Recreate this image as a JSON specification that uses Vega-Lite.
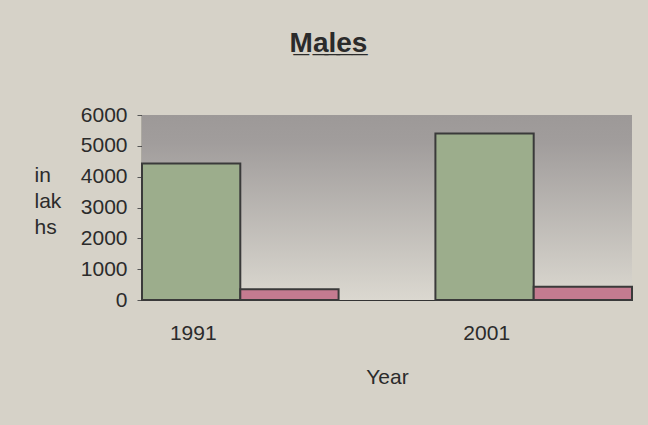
{
  "$schema": "https://vega.github.io/schema/vega-lite/v6.json",
  "width": 490,
  "height": 185,
  "padding": {"left": 34, "top": 30, "right": 16, "bottom": 40},
  "background": "#d6d2c8",
  "config": {
    "view": {"stroke": null},
    "font": "Liberation Sans",
    "axisY": {"labelOverlap": false}
  },
  "title": {
    "text": "M̲a̲l̲e̲s̲",
    "fontSize": 28,
    "fontWeight": "bold",
    "font": "Liberation Sans",
    "color": "#2b2b2b",
    "anchor": "middle",
    "frame": "bounds",
    "dx": -5,
    "offset": 46
  },
  "data": {
    "values": [
      {"year": "1991", "series": "Series 1", "value": 4430},
      {"year": "1991", "series": "Series 2", "value": 350},
      {"year": "2001", "series": "Series 1", "value": 5400},
      {"year": "2001", "series": "Series 2", "value": 430}
    ]
  },
  "encoding": {
    "y": {
      "field": "value",
      "type": "quantitative",
      "scale": {"domain": [0, 6000]},
      "axis": {
        "values": [0, 1000, 2000, 3000, 4000, 5000, 6000],
        "tickCount": 7,
        "format": "d",
        "labelOverlap": false,
        "grid": false,
        "title": ["in", "lak", "hs"],
        "titleAngle": 0,
        "titleAlign": "left",
        "titleBaseline": "alphabetic",
        "titleX": -108,
        "titleY": 66,
        "titleLineHeight": 26,
        "titleFontSize": 21,
        "titleFontWeight": "normal",
        "titleColor": "#2b2b2b",
        "labelFontSize": 21,
        "labelColor": "#2b2b2b",
        "labelPadding": 10,
        "tickSize": 5,
        "tickColor": "#555555",
        "domainColor": "#333333",
        "domainWidth": 1.5
      }
    }
  },
  "layer": [
    {
      "data": {"values": [{"value": 6000, "value2": 0}]},
      "mark": {
        "type": "rect",
        "color": {
          "gradient": "linear",
          "x1": 0, "y1": 0, "x2": 0, "y2": 1,
          "stops": [
            {"offset": 0, "color": "#9d9998"},
            {"offset": 0.15, "color": "#a19d9c"},
            {"offset": 1, "color": "#dbd8d0"}
          ]
        }
      },
      "encoding": {
        "y2": {"field": "value2"}
      }
    },
    {
      "mark": {"type": "bar", "stroke": "#3a3a3a", "strokeWidth": 2, "fillOpacity": 1},
      "encoding": {
        "x": {
          "field": "year",
          "type": "nominal",
          "scale": {"paddingInner": 0.33, "paddingOuter": 0},
          "axis": {
            "title": "Year",
            "labelAngle": 0,
            "labelFontSize": 21,
            "labelColor": "#2b2b2b",
            "labelPadding": 22,
            "labelOffset": -47,
            "ticks": false,
            "domainColor": "#333333",
            "domainWidth": 1,
            "titleFontSize": 21,
            "titleFontWeight": "normal",
            "titleColor": "#2b2b2b",
            "titlePadding": 23
          }
        },
        "xOffset": {"field": "series", "type": "nominal", "scale": {"paddingInner": 0, "paddingOuter": 0}},
        "color": {
          "field": "series",
          "type": "nominal",
          "scale": {"domain": ["Series 1", "Series 2"], "range": ["#9cad8c", "#c47b90"]},
          "legend": null
        }
      }
    }
  ]
}
